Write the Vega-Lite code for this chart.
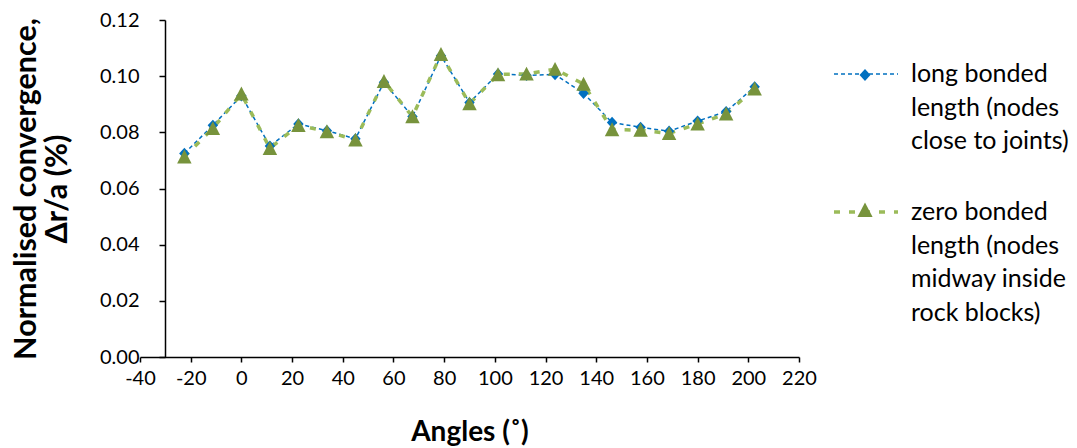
{
  "$schema": "https://vega.github.io/schema/vega-lite/v6.json",
  "width": 659,
  "height": 337,
  "autosize": "none",
  "padding": {"left": 140, "top": 20, "right": 278, "bottom": 91},
  "background": "white",
  "config": {
    "view": {"stroke": null},
    "font": "Lato",
    "axis": {
      "domainColor": "black", "domainWidth": 1.5,
      "tickColor": "black", "tickWidth": 1.5, "tickSize": 6,
      "grid": false,
      "labelFont": "Lato", "labelFontSize": 20, "labelColor": "black",
      "titleFont": "Lato", "titleFontWeight": "bold", "titleColor": "black"
    }
  },
  "data": {"values": [
    {"angle": -22.5, "series": "long bonded length (nodes close to joints)", "marker": "long bonded length (nodes close to joints)", "value": 0.0725},
    {"angle": -11.25, "series": "long bonded length (nodes close to joints)", "marker": "long bonded length (nodes close to joints)", "value": 0.0825},
    {"angle": 0, "series": "long bonded length (nodes close to joints)", "marker": "long bonded length (nodes close to joints)", "value": 0.0930},
    {"angle": 11.25, "series": "long bonded length (nodes close to joints)", "marker": "long bonded length (nodes close to joints)", "value": 0.0751},
    {"angle": 22.5, "series": "long bonded length (nodes close to joints)", "marker": "long bonded length (nodes close to joints)", "value": 0.0830},
    {"angle": 33.75, "series": "long bonded length (nodes close to joints)", "marker": "long bonded length (nodes close to joints)", "value": 0.0806},
    {"angle": 45, "series": "long bonded length (nodes close to joints)", "marker": "long bonded length (nodes close to joints)", "value": 0.0777},
    {"angle": 56.25, "series": "long bonded length (nodes close to joints)", "marker": "long bonded length (nodes close to joints)", "value": 0.0978},
    {"angle": 67.5, "series": "long bonded length (nodes close to joints)", "marker": "long bonded length (nodes close to joints)", "value": 0.0856},
    {"angle": 78.75, "series": "long bonded length (nodes close to joints)", "marker": "long bonded length (nodes close to joints)", "value": 0.1073},
    {"angle": 90, "series": "long bonded length (nodes close to joints)", "marker": "long bonded length (nodes close to joints)", "value": 0.0906},
    {"angle": 101.25, "series": "long bonded length (nodes close to joints)", "marker": "long bonded length (nodes close to joints)", "value": 0.1008},
    {"angle": 112.5, "series": "long bonded length (nodes close to joints)", "marker": "long bonded length (nodes close to joints)", "value": 0.1003},
    {"angle": 123.75, "series": "long bonded length (nodes close to joints)", "marker": "long bonded length (nodes close to joints)", "value": 0.1006},
    {"angle": 135, "series": "long bonded length (nodes close to joints)", "marker": "long bonded length (nodes close to joints)", "value": 0.0939},
    {"angle": 146.25, "series": "long bonded length (nodes close to joints)", "marker": "long bonded length (nodes close to joints)", "value": 0.0835},
    {"angle": 157.5, "series": "long bonded length (nodes close to joints)", "marker": "long bonded length (nodes close to joints)", "value": 0.0818},
    {"angle": 168.75, "series": "long bonded length (nodes close to joints)", "marker": "long bonded length (nodes close to joints)", "value": 0.0804},
    {"angle": 180, "series": "long bonded length (nodes close to joints)", "marker": "long bonded length (nodes close to joints)", "value": 0.0840},
    {"angle": 191.25, "series": "long bonded length (nodes close to joints)", "marker": "long bonded length (nodes close to joints)", "value": 0.0874},
    {"angle": 202.5, "series": "long bonded length (nodes close to joints)", "marker": "long bonded length (nodes close to joints)", "value": 0.0962},
    {"angle": -22.5, "series": "zero bonded length (nodes midway inside rock blocks)", "marker": "zero bonded length (nodes midway inside rock blocks)", "value": 0.0713},
    {"angle": -11.25, "series": "zero bonded length (nodes midway inside rock blocks)", "marker": "zero bonded length (nodes midway inside rock blocks)", "value": 0.0814},
    {"angle": 0, "series": "zero bonded length (nodes midway inside rock blocks)", "marker": "zero bonded length (nodes midway inside rock blocks)", "value": 0.0937},
    {"angle": 11.25, "series": "zero bonded length (nodes midway inside rock blocks)", "marker": "zero bonded length (nodes midway inside rock blocks)", "value": 0.0743},
    {"angle": 22.5, "series": "zero bonded length (nodes midway inside rock blocks)", "marker": "zero bonded length (nodes midway inside rock blocks)", "value": 0.0825},
    {"angle": 33.75, "series": "zero bonded length (nodes midway inside rock blocks)", "marker": "zero bonded length (nodes midway inside rock blocks)", "value": 0.0803},
    {"angle": 45, "series": "zero bonded length (nodes midway inside rock blocks)", "marker": "zero bonded length (nodes midway inside rock blocks)", "value": 0.0773},
    {"angle": 56.25, "series": "zero bonded length (nodes midway inside rock blocks)", "marker": "zero bonded length (nodes midway inside rock blocks)", "value": 0.0982},
    {"angle": 67.5, "series": "zero bonded length (nodes midway inside rock blocks)", "marker": "zero bonded length (nodes midway inside rock blocks)", "value": 0.0856},
    {"angle": 78.75, "series": "zero bonded length (nodes midway inside rock blocks)", "marker": "zero bonded length (nodes midway inside rock blocks)", "value": 0.1078},
    {"angle": 90, "series": "zero bonded length (nodes midway inside rock blocks)", "marker": "zero bonded length (nodes midway inside rock blocks)", "value": 0.0902},
    {"angle": 101.25, "series": "zero bonded length (nodes midway inside rock blocks)", "marker": "zero bonded length (nodes midway inside rock blocks)", "value": 0.1006},
    {"angle": 112.5, "series": "zero bonded length (nodes midway inside rock blocks)", "marker": "zero bonded length (nodes midway inside rock blocks)", "value": 0.1008},
    {"angle": 123.75, "series": "zero bonded length (nodes midway inside rock blocks)", "marker": "zero bonded length (nodes midway inside rock blocks)", "value": 0.1025},
    {"angle": 135, "series": "zero bonded length (nodes midway inside rock blocks)", "marker": "zero bonded length (nodes midway inside rock blocks)", "value": 0.0972},
    {"angle": 146.25, "series": "zero bonded length (nodes midway inside rock blocks)", "marker": "zero bonded length (nodes midway inside rock blocks)", "value": 0.0810},
    {"angle": 157.5, "series": "zero bonded length (nodes midway inside rock blocks)", "marker": "zero bonded length (nodes midway inside rock blocks)", "value": 0.0808},
    {"angle": 168.75, "series": "zero bonded length (nodes midway inside rock blocks)", "marker": "zero bonded length (nodes midway inside rock blocks)", "value": 0.0796},
    {"angle": 180, "series": "zero bonded length (nodes midway inside rock blocks)", "marker": "zero bonded length (nodes midway inside rock blocks)", "value": 0.0830},
    {"angle": 191.25, "series": "zero bonded length (nodes midway inside rock blocks)", "marker": "zero bonded length (nodes midway inside rock blocks)", "value": 0.0866},
    {"angle": 202.5, "series": "zero bonded length (nodes midway inside rock blocks)", "marker": "zero bonded length (nodes midway inside rock blocks)", "value": 0.0955}
  ]},
  "encoding": {
    "x": {
      "field": "angle", "type": "quantitative",
      "scale": {"domain": [-40, 220], "nice": false, "zero": false},
      "axis": {
        "values": [-40, -20, 0, 20, 40, 60, 80, 100, 120, 140, 160, 180, 200, 220],
        "labelExpr": "toString(datum.value)",
        "title": "Angles (˚)", "titleFontSize": 28, "tickSize": 5, "labelPadding": 6, "titlePadding": 30, "labelFlush": false, "labelOverlap": false
      }
    },
    "y": {
      "field": "value", "type": "quantitative",
      "scale": {"domain": [0, 0.12], "nice": false},
      "axis": {
        "values": [0, 0.02, 0.04, 0.06, 0.08, 0.1, 0.12],
        "format": ".2f", "offset": -25, "labelPadding": 20, "titlePadding": 27,
        "title": ["Normalised convergence,", "Δr/a (%)"], "titleFontSize": 30.5, "titleLineHeight": 31, "labelFlush": false, "labelOverlap": false
      }
    }
  },
  "layer": [
    {
      "mark": {"type": "line", "strokeCap": "butt"},
      "encoding": {
        "color": {
          "field": "series", "type": "nominal",
          "scale": {"domain": ["long bonded length (nodes close to joints)", "zero bonded length (nodes midway inside rock blocks)"], "range": ["#0070C0", "#9BBB59"]},
          "legend": {
            "title": null, "orient": "none", "legendX": 692, "legendY": 21, "padding": 0,
            "symbolType": "stroke", "symbolSize": 4096, "labelFont": "Lato", "labelFontSize": 25, "labelColor": "black",
            "labelOffset": 11, "labelLimit": 400, "rowPadding": 24,
            "labelExpr": "datum.label === 'long bonded length (nodes close to joints)' ? ['long bonded', 'length (nodes', 'close to joints)'] : ['zero bonded', 'length (nodes', 'midway inside', 'rock blocks)']",
            "encode": {"labels": {"update": {"lineHeight": {"value": 33.5}}}}
          }
        },
        "strokeDash": {
          "field": "series", "type": "nominal",
          "scale": {"domain": ["long bonded length (nodes close to joints)", "zero bonded length (nodes midway inside rock blocks)"], "range": [[4, 3], [6, 9]]}
        },
        "strokeWidth": {
          "field": "series", "type": "nominal",
          "scale": {"type": "ordinal", "domain": ["long bonded length (nodes close to joints)", "zero bonded length (nodes midway inside rock blocks)"], "range": [1.5, 3.5]}
        }
      }
    },
    {
      "mark": {"type": "point", "filled": true, "opacity": 1, "strokeWidth": 0, "size": 210},
      "encoding": {
        "fill": {
          "field": "marker", "type": "nominal",
          "scale": {"range": ["#0070C0", "#77933C"]},
          "legend": {
            "title": null, "orient": "none", "legendX": 717, "legendY": 47, "padding": 0,
            "symbolSize": 230, "symbolStrokeWidth": 0, "labelFontSize": 10, "labelOpacity": 0,
            "labelExpr": "''", "rowPadding": 121
          }
        },
        "shape": {
          "field": "marker", "type": "nominal",
          "scale": {"range": ["M0,-0.78L0.72,0L0,0.78L-0.72,0Z", "M0,-1L1,0.92L-1,0.92Z"]}
        }
      }
    }
  ]
}
